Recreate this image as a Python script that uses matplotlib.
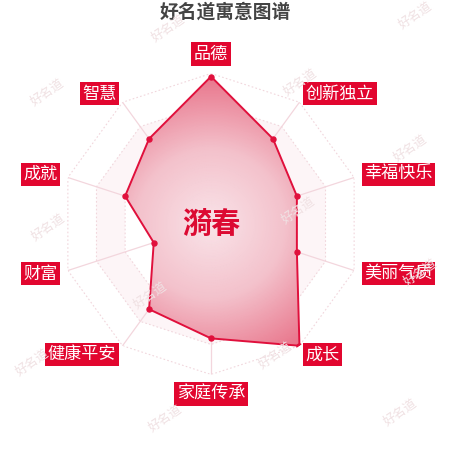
import numpy as np
import matplotlib
matplotlib.use('Agg')
import matplotlib.pyplot as plt
from matplotlib.colors import LinearSegmentedColormap

plt.rcParams['font.family'] = ['Noto Sans CJK SC', 'DejaVu Sans']

# ---------------- data ----------------
title = '好名道寓意图谱'
name = '漪春'
categories = ['品德', '创新独立', '幸福快乐', '美丽气质', '成长',
              '家庭传承', '健康平安', '财富', '成就', '智慧']
values = [98, 70, 60, 60, 100, 76, 70, 40, 60, 70]
max_value = 100
split_levels = [20, 40, 60, 80, 100]
watermark_text = '好名道'
watermark_xy = [(168, 28), (300, 82), (415, 15), (47, 92), (410, 148),
                (48, 227), (420, 272), (32, 362), (275, 355), (165, 418),
                (400, 412), (298, 210), (150, 295)]

# ---------------- style ----------------
W = H = 450
cx, cy, R = 211, 224, 150.5
line_color = '#e0103c'
label_bg = '#e2062f'
name_color = '#dc0a32'

fig = plt.figure(figsize=(W / 100, H / 100), dpi=100)
fig.patch.set_facecolor('white')
ax = fig.add_axes([(cx - R) / W, (H - cy - R) / H, 2 * R / W, 2 * R / H],
                  projection='polar')
ax.set_theta_zero_location('N')
ax.set_theta_direction(-1)
ax.set_ylim(0, max_value)
ax.set_axis_off()

n = len(categories)
theta = np.arange(n) * 2 * np.pi / n
closed_t = np.append(theta, theta[0])

# split areas
area_colors = ['#ffffff', '#fdf5f7']
for i in range(len(split_levels) - 1, -1, -1):
    r = split_levels[i]
    ax.fill(closed_t, [r] * (n + 1), color=area_colors[i % 2], lw=0, zorder=1)

# split lines
for r in split_levels:
    ax.plot(closed_t, [r] * (n + 1), color='#f1d6dc', lw=0.8,
            ls=(0, (1.5, 2)), zorder=2)

# axis lines
for t in theta:
    ax.plot([t, t], [0, max_value], color='#f3d6dd', lw=0.9, zorder=2)

# series polygon with radial gradient
vals_closed = values + [values[0]]
poly = ax.fill(closed_t, vals_closed, facecolor='none', edgecolor='none',
               zorder=3)[0]
cmap = LinearSegmentedColormap.from_list('g', ['#f9e4e9', '#f3c1cb', '#e87389'])
TT, RR = np.meshgrid(np.linspace(0, 2 * np.pi, 181),
                     np.linspace(0, max_value, 101))
mesh = ax.pcolormesh(TT, RR, RR, cmap=cmap, shading='gouraud',
                     vmin=0, vmax=max_value, zorder=3)
mesh.set_clip_path(poly)
ax.plot(closed_t, vals_closed, color=line_color, lw=1.4, zorder=4)
ax.plot(theta, values, 'o', color=line_color, ms=3.6, zorder=5)

# indicator labels
label_r = 107
for t, c in zip(theta, categories):
    s, co = np.sin(t), np.cos(t)
    ha = 'center' if abs(s) < 0.01 else ('left' if s > 0 else 'right')
    va = 'bottom' if co > 0.99 else ('top' if co < -0.99 else 'center')
    ax.text(t, label_r, c, ha=ha, va=va, color='white', fontsize=12.3,
            bbox=dict(boxstyle='square,pad=0.15', fc=label_bg, ec='none'),
            zorder=6)

# center name
ax.text(0, 0, name, ha='center', va='center', fontsize=21,
        fontweight='bold', color=name_color, zorder=7)

# title
fig.text(225 / W, 1 - 12 / H, title, ha='center', va='center',
         fontsize=13.5, fontweight='bold', color='#444444')

# watermarks
for (x, y) in watermark_xy:
    fig.text(x / W, 1 - y / H, watermark_text, rotation=35, fontsize=9,
             color='#f0e1e3', ha='center', va='center', zorder=10)

fig.savefig('out.png', dpi=100)
